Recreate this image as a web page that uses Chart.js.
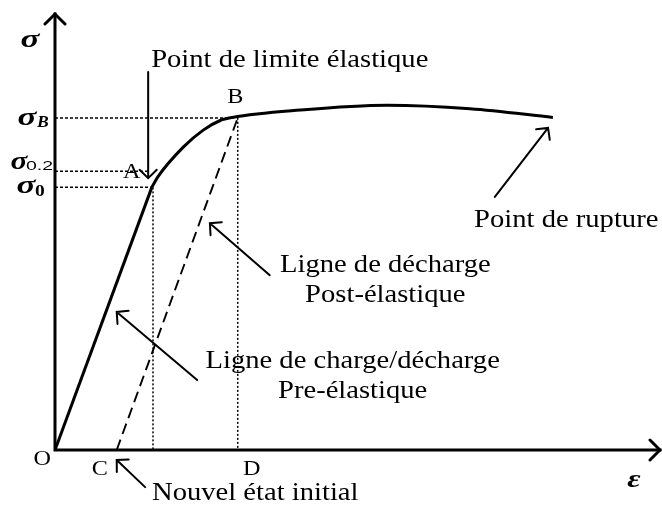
<!DOCTYPE html>
<html>
<head>
<meta charset="utf-8">
<script src="https://cdn.jsdelivr.net/npm/chart.js@4/dist/chart.umd.min.js"></script>
<style>
  html, body { margin: 0; padding: 0; background: #ffffff; }
  #wrap { width: 662px; height: 505px; }
</style>
</head>
<body>
<div id="wrap"><canvas id="myChart"></canvas></div>
<script>
// strain (x) and stress (y) in arbitrary units
// O -> A : elastic loading
const elasticX = [0, 1.60];
const elasticY = [0, 60.1];
// A -> B -> rupture : plastic part of the curve
const plasticX = [1.60, 1.70, 2.12, 2.45, 2.73, 2.93, 4.05, 5.49, 6.86, 8.23];
const plasticY = [60.1, 62.5, 69.3, 73.2, 75.4, 76.1, 77.8, 78.9, 78.1, 76.1];

// characteristic levels
const sigma0 = 60.1;
const sigma02 = 63.8;
const sigmaB = 76.0;
const epsA = 1.60;
const epsC = 1.02;
const epsD = 3.02;

// unloading line C -> B
const unloadX = [epsC, epsD];
const unloadY = [0, sigmaB];

const xTickLabels = ["C", "D"];

function pts(xs, ys) {
  return xs.map((x, i) => ({x: x, y: ys[i]}));
}

const serif = "'Liberation Serif', 'Times New Roman', serif";

// notes: text + arrow, in data units
const notes = [
  {lines: ["Point de limite élastique"], at: [3.88, 87.6], from: [1.54, 86.5], to: [1.54, 62.2]},
  {lines: ["Point de rupture"], at: [8.45, 51.0], from: [7.27, 57.9], to: [8.15, 73.7]},
  {lines: ["Ligne de décharge", "Post-élastique"], at: [5.46, 40.7], from: [3.55, 40.0], to: [2.56, 51.9]},
  {lines: ["Ligne de charge/décharge", "Pre-élastique"], at: [4.92, 18.8], from: [2.35, 16.0], to: [1.02, 31.6]},
  {lines: ["Nouvel état initial"], at: [3.31, -11.4], from: [1.49, -8.5], to: [1.02, -2.3]}
];

const letters = [
  {t: "A", at: [1.27, 62.2]},
  {t: "B", at: [2.98, 79.4]},
  {t: "O", at: [-0.21, -3.4]}
];

function drawText(ctx, str, x, y, font, sx, align) {
  ctx.save();
  ctx.font = font;
  ctx.textAlign = align || "center";
  ctx.textBaseline = "alphabetic";
  ctx.translate(x, y);
  ctx.scale(sx, 1);
  ctx.fillText(str, 0, 0);
  ctx.restore();
}

function drawArrow(ctx, x1, y1, x2, y2, len, half, width) {
  const a = Math.atan2(y2 - y1, x2 - x1);
  ctx.save();
  ctx.lineWidth = width;
  ctx.lineCap = "round";
  ctx.lineJoin = "miter";
  ctx.beginPath();
  ctx.moveTo(x1, y1);
  ctx.lineTo(x2, y2);
  ctx.moveTo(x2 - len * Math.cos(a - half), y2 - len * Math.sin(a - half));
  ctx.lineTo(x2, y2);
  ctx.lineTo(x2 - len * Math.cos(a + half), y2 - len * Math.sin(a + half));
  ctx.stroke();
  ctx.restore();
}

const diagramPlugin = {
  id: "diagram",
  afterDraw(chart) {
    const {ctx, chartArea, scales} = chart;
    const X = v => scales.x.getPixelForValue(v);
    const Y = v => scales.y.getPixelForValue(v);
    const ox = X(0), oy = Y(0);
    ctx.save();
    ctx.strokeStyle = "#000";
    ctx.fillStyle = "#000";

    // axes with open arrowheads
    ctx.lineWidth = 3;
    ctx.lineCap = "square";
    ctx.beginPath();
    ctx.moveTo(ox, oy);
    ctx.lineTo(ox, chartArea.top + 1);
    ctx.moveTo(ox, oy);
    ctx.lineTo(chartArea.right, oy);
    ctx.stroke();
    ctx.lineCap = "round";
    ctx.beginPath();
    ctx.moveTo(ox - 10, chartArea.top + 11);
    ctx.lineTo(ox, chartArea.top + 1);
    ctx.lineTo(ox + 10, chartArea.top + 11);
    ctx.moveTo(chartArea.right - 10, oy - 10);
    ctx.lineTo(chartArea.right, oy);
    ctx.lineTo(chartArea.right - 10, oy + 10);
    ctx.stroke();

    // notes and their arrows
    notes.forEach(n => {
      n.lines.forEach((s, i) => {
        drawText(ctx, s, X(n.at[0]), Y(n.at[1]) + i * 30, "26px " + serif, 1.1);
      });
      drawArrow(ctx, X(n.from[0]), Y(n.from[1]), X(n.to[0]), Y(n.to[1]), 12, 0.8, 2);
    });

    letters.forEach(l => {
      drawText(ctx, l.t, X(l.at[0]), Y(l.at[1]), "22px " + serif, 1.1);
    });

    // strain ticks C and D
    drawText(ctx, xTickLabels[0], X(epsC) - 17, oy + 25, "22px " + serif, 1.1);
    drawText(ctx, xTickLabels[1], X(epsD) + 14, oy + 25, "22px " + serif, 1.1);

    // stress labels on the left
    const sig = "bold italic 26px " + serif;
    drawText(ctx, "σ", 30, 47, sig, 1.35);
    drawText(ctx, "σ", 27, Y(sigmaB) + 7, sig, 1.35);
    drawText(ctx, "B", 37, Y(sigmaB) + 9, "bold italic 16px " + serif, 1.1, "left");
    drawText(ctx, "σ", 19, Y(sigma02) - 2, sig, 1.2);
    drawText(ctx, "0.2", 26, Y(sigma02) - 1, "13px 'Liberation Sans', Arial, sans-serif", 1.5, "left");
    drawText(ctx, "σ", 26, Y(sigma0) + 6, sig, 1.35);
    drawText(ctx, "0", 35, Y(sigma0) + 9, "bold 17px " + serif, 1.15, "left");
    drawText(ctx, "ε", X(0) + 579, oy + 37, sig, 1.25);
    ctx.restore();
  }
};

const guide = {borderColor: "#000", borderWidth: 1.5, pointRadius: 0, showLine: true, fill: false};

const data = {
  datasets: [
    {data: pts(elasticX, elasticY), borderColor: "#000", borderWidth: 3, pointRadius: 0, showLine: true},
    {data: pts(plasticX, plasticY), borderColor: "#000", borderWidth: 3, pointRadius: 0, showLine: true,
      cubicInterpolationMode: "monotone"},
    {data: pts(unloadX, unloadY), borderColor: "#000", borderWidth: 1.9, borderDash: [11, 6], pointRadius: 0, showLine: true},
    // dotted guide lines
    Object.assign({data: [{x: 0, y: sigma0}, {x: epsA, y: sigma0}], borderDash: [3, 2]}, guide),
    Object.assign({data: [{x: 0, y: sigma02}, {x: 1.54, y: sigma02}], borderDash: [3, 2]}, guide),
    Object.assign({data: [{x: 0, y: sigmaB}, {x: 2.9, y: sigmaB}], borderDash: [3, 2]}, guide),
    Object.assign({data: [{x: epsA + 0.02, y: sigma0}, {x: epsA + 0.02, y: 0}], borderDash: [2, 2]}, guide),
    Object.assign({data: [{x: epsD, y: sigmaB}, {x: epsD, y: 0}], borderDash: [2, 2]}, guide)
  ]
};

const config = {
  type: "scatter",
  data: data,
  options: {
    responsive: true,
    maintainAspectRatio: false,
    animation: false,
    layout: {padding: {left: 55, right: 2, top: 13, bottom: 55}},
    scales: {
      x: {type: "linear", min: 0, max: 10, display: false},
      y: {type: "linear", min: 0, max: 100, display: false}
    },
    plugins: {
      legend: {display: false},
      tooltip: {enabled: false}
    },
    hover: {mode: null}
  },
  plugins: [diagramPlugin]
};

const myChart = new Chart(document.getElementById("myChart"), config);
</script>
</body>
</html>
